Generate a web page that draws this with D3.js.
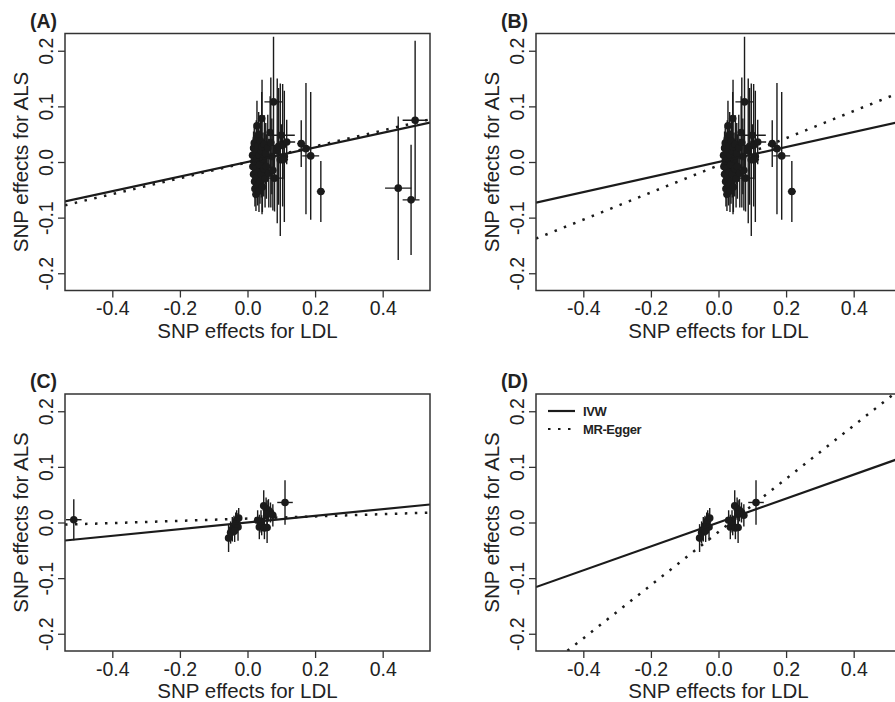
<!DOCTYPE html>
<html>
<head>
<meta charset="utf-8">
<script src="https://cdn.jsdelivr.net/npm/d3@7"></script>
<style>
  body { margin: 0; background: #fff; }
  svg { display: block; font-family: "Liberation Sans", Arial, sans-serif; }
</style>
</head>
<body>
<div id="chart"></div>
<script>
// tick values
const xTicks = [-0.4, -0.2, 0.0, 0.2, 0.4];
const yTicks = [-0.2, -0.1, 0.0, 0.1, 0.2];
const panelLabels = ["(A)", "(B)", "(C)", "(D)"];

// SNP effects: [LDL beta, LDL se, ALS beta, ALS se]
// first SNP set (panels A and B)
const snpsSet1 = [
  [0.015, 0.003, 0.012, 0.028], [0.016, 0.003, -0.008, 0.026],
  [0.018, 0.003, 0.025, 0.030], [0.018, 0.003, -0.022, 0.028],
  [0.020, 0.004, 0.034, 0.030], [0.020, 0.004, 0.002, 0.027],
  [0.021, 0.004, -0.035, 0.030], [0.022, 0.004, -0.048, 0.032],
  [0.023, 0.004, 0.018, 0.030], [0.024, 0.004, -0.012, 0.032],
  [0.025, 0.004, -0.058, 0.030], [0.026, 0.004, 0.042, 0.033],
  [0.027, 0.004, -0.028, 0.034], [0.028, 0.006, 0.065, 0.045],
  [0.029, 0.004, 0.005, 0.034], [0.030, 0.004, -0.042, 0.036],
  [0.031, 0.005, 0.028, 0.036], [0.032, 0.005, -0.018, 0.035],
  [0.033, 0.005, 0.050, 0.040], [0.034, 0.005, -0.052, 0.038],
  [0.035, 0.005, 0.012, 0.040], [0.036, 0.005, -0.005, 0.038],
  [0.037, 0.005, -0.035, 0.040], [0.038, 0.005, 0.038, 0.042],
  [0.040, 0.005, 0.020, 0.045], [0.041, 0.005, -0.022, 0.042],
  [0.042, 0.007, 0.078, 0.048], [0.043, 0.005, 0.027, 0.121],
  [0.044, 0.005, -0.045, 0.045], [0.046, 0.006, 0.005, 0.048],
  [0.048, 0.006, -0.012, 0.050], [0.050, 0.006, 0.032, 0.052],
  [0.052, 0.006, -0.030, 0.052], [0.054, 0.006, 0.015, 0.055],
  [0.056, 0.006, -0.008, 0.058], [0.060, 0.007, 0.025, 0.060],
  [0.063, 0.007, -0.020, 0.062], [0.067, 0.008, 0.053, 0.065],
  [0.069, 0.007, 0.035, 0.117], [0.072, 0.008, 0.010, 0.068],
  [0.075, 0.008, -0.015, 0.072], [0.080, 0.022, -0.029, 0.060],
  [0.077, 0.027, 0.108, 0.117], [0.088, 0.010, 0.020, 0.130],
  [0.092, 0.010, 0.028, 0.105], [0.097, 0.010, 0.004, 0.137],
  [0.104, 0.012, 0.030, 0.110], [0.109, 0.010, 0.010, 0.118],
  [0.105, 0.015, 0.004, 0.035], [0.116, 0.025, 0.036, 0.040],
  [0.100, 0.040, 0.048, 0.020], [0.159, 0.012, 0.033, 0.042],
  [0.173, 0.010, 0.024, 0.118], [0.187, 0.025, 0.011, 0.115],
  [0.217, 0.012, -0.053, 0.055]
];
// extra SNPs only in panel A
const outliersSet1 = [
  [0.446, 0.039, -0.047, 0.129],
  [0.484, 0.025, -0.068, 0.099],
  [0.496, 0.037, 0.075, 0.143]
];
// second SNP set (panels C and D)
const snpsSet2 = [
  [0.111, 0.023, 0.036, 0.040], [0.048, 0.008, 0.030, 0.028],
  [0.055, 0.008, 0.025, 0.020], [0.062, 0.008, 0.022, 0.020],
  [0.068, 0.008, 0.018, 0.018], [0.075, 0.008, 0.013, 0.020],
  [0.058, 0.007, 0.015, 0.025], [0.030, 0.008, 0.004, 0.018],
  [0.035, 0.008, -0.008, 0.022], [0.042, 0.008, -0.005, 0.018],
  [0.050, 0.008, -0.010, 0.020], [0.058, 0.008, -0.009, 0.028],
  [0.040, 0.007, 0.002, 0.020], [-0.056, 0.006, -0.028, 0.025],
  [-0.050, 0.006, -0.018, 0.020], [-0.045, 0.006, -0.012, 0.022],
  [-0.040, 0.006, -0.006, 0.018], [-0.035, 0.006, -0.002, 0.020],
  [-0.032, 0.006, 0.004, 0.018], [-0.028, 0.006, -0.008, 0.025],
  [-0.026, 0.006, 0.008, 0.018], [-0.038, 0.006, -0.015, 0.020]
];
// extra SNP only in panel C
const outliersSet2 = [
  [-0.514, 0.023, 0.005, 0.037]
];

// fitted lines per panel A-D
const ivwSlope = [0.131, 0.135, 0.060, 0.215];
const eggerSlope = [0.143, 0.244, 0.020, 0.478];
const eggerIntercept = [-0.0005, -0.006, 0.007, -0.017];

const legendLabels = ["IVW", "MR-Egger"];

const width = 895, height = 702;
const xDomain = [-0.54, 0.54];
const yDomain = [-0.231, 0.231];

const panels = [
  { left: 65,  top: 33.5, data: snpsSet1.concat(outliersSet1) },
  { left: 536, top: 33.5, data: snpsSet1 },
  { left: 65,  top: 394,  data: snpsSet2.concat(outliersSet2) },
  { left: 536, top: 394,  data: snpsSet2 }
];
const pw = 365, ph = 257;
const ink = "#1b1b1b";

const svg = d3.select("#chart").append("svg")
  .attr("width", width)
  .attr("height", height);
svg.append("rect").attr("width", width).attr("height", height).attr("fill", "#fff");

panels.forEach((p, i) => {
  const x = d3.scaleLinear().domain(xDomain).range([p.left, p.left + pw]);
  const y = d3.scaleLinear().domain(yDomain).range([p.top + ph, p.top]);
  const g = svg.append("g");

  g.append("clipPath").attr("id", "clip" + i)
    .append("rect").attr("x", p.left).attr("y", p.top).attr("width", pw).attr("height", ph);

  // x axis
  const xa = g.append("g")
    .attr("transform", `translate(0,${p.top + ph})`)
    .call(d3.axisBottom(x).tickValues(xTicks).tickSize(7).tickPadding(4)
      .tickFormat(d => d.toFixed(1)));
  xa.select(".domain").remove();
  xa.selectAll("line").attr("stroke", "#333").attr("stroke-width", 1.3);
  xa.selectAll("text").attr("font-size", 19.5).attr("fill", "#222")
    .attr("font-family", "Liberation Sans, Arial, sans-serif");

  // y axis, labels parallel to the axis
  const ya = g.append("g")
    .attr("transform", `translate(${p.left},0)`)
    .call(d3.axisLeft(y).tickValues(yTicks).tickSize(7)
      .tickFormat(d => d.toFixed(1)));
  ya.select(".domain").remove();
  ya.selectAll("line").attr("stroke", "#333").attr("stroke-width", 1.3);
  ya.selectAll("text")
    .attr("font-size", 19.5).attr("fill", "#222")
    .attr("font-family", "Liberation Sans, Arial, sans-serif")
    .attr("transform", "rotate(-90)")
    .attr("x", 0).attr("y", -12).attr("dy", 0)
    .attr("text-anchor", "middle");

  // axis titles
  g.append("text")
    .attr("x", p.left + pw / 2).attr("y", p.top + ph + 47)
    .attr("text-anchor", "middle").attr("font-size", 20.5).attr("fill", "#222")
    .text("SNP effects for LDL");
  g.append("text")
    .attr("transform", `translate(${p.left - 37},${p.top + ph / 2}) rotate(-90)`)
    .attr("text-anchor", "middle").attr("font-size", 20.5).attr("fill", "#222")
    .text("SNP effects for ALS");

  // panel label
  g.append("text")
    .attr("x", p.left - 8).attr("y", p.top - 6)
    .attr("text-anchor", "end").attr("font-size", 19.5).attr("font-weight", "bold")
    .attr("fill", "#222")
    .text(panelLabels[i]);

  const plot = g.append("g").attr("clip-path", `url(#clip${i})`);

  // error bars
  plot.selectAll(".vbar").data(p.data).join("line")
    .attr("x1", d => x(d[0])).attr("x2", d => x(d[0]))
    .attr("y1", d => y(d[2] - d[3])).attr("y2", d => y(d[2] + d[3]))
    .attr("stroke", ink).attr("stroke-width", 1.4);
  plot.selectAll(".hbar").data(p.data).join("line")
    .attr("x1", d => x(d[0] - d[1])).attr("x2", d => x(d[0] + d[1]))
    .attr("y1", d => y(d[2])).attr("y2", d => y(d[2]))
    .attr("stroke", ink).attr("stroke-width", 1.4);
  plot.selectAll("circle").data(p.data).join("circle")
    .attr("cx", d => x(d[0])).attr("cy", d => y(d[2]))
    .attr("r", 3.8).attr("fill", ink);

  // regression lines
  const line = d3.line().x(d => x(d[0])).y(d => y(d[1]));
  plot.append("path")
    .attr("d", line(xDomain.map(v => [v, ivwSlope[i] * v])))
    .attr("fill", "none").attr("stroke", ink).attr("stroke-width", 2.2);
  plot.append("path")
    .attr("d", line(xDomain.map(v => [v, eggerIntercept[i] + eggerSlope[i] * v])))
    .attr("fill", "none").attr("stroke", ink).attr("stroke-width", 2.5)
    .attr("stroke-dasharray", "2.5,7.5");

  // frame
  g.append("rect")
    .attr("x", p.left).attr("y", p.top).attr("width", pw).attr("height", ph)
    .attr("fill", "none").attr("stroke", "#333").attr("stroke-width", 1.5);

  // legend in panel D
  if (i === 3) {
    const lg = g.append("g");
    const rows = [{ label: legendLabels[0], dash: null, yy: p.top + 17 },
                  { label: legendLabels[1], dash: "2.5,7.5", yy: p.top + 35 }];
    rows.forEach(r => {
      lg.append("line")
        .attr("x1", p.left + 12).attr("x2", p.left + 39)
        .attr("y1", r.yy).attr("y2", r.yy)
        .attr("stroke", ink).attr("stroke-width", 2.2)
        .attr("stroke-dasharray", r.dash);
      lg.append("text")
        .attr("x", p.left + 47).attr("y", r.yy + 4.5)
        .attr("font-size", 13).attr("font-weight", "bold")
        .attr("letter-spacing", -0.4).attr("fill", "#222")
        .text(r.label);
    });
  }
});
</script>
</body>
</html>
